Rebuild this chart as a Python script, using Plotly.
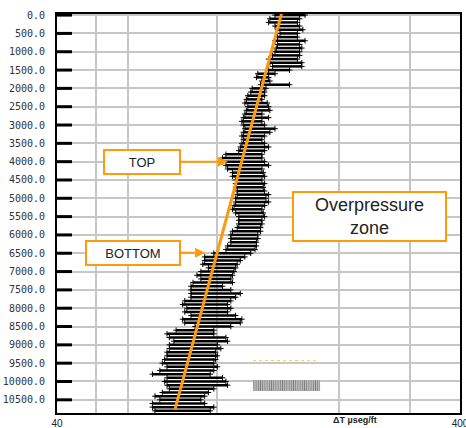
import math
import plotly.graph_objects as go

# Depth samples (ft) and the left/right extent of the sonic ΔT cloud (µs/ft)
depth = [0, 100, 200, 300, 400, 500, 600, 700, 800, 900,
         1000, 1100, 1200, 1300, 1400, 1500, 1600, 1700, 1800, 1900,
         2000, 2100, 2200, 2300, 2400, 2500, 2600, 2700, 2800, 2900,
         3000, 3100, 3200, 3300, 3400, 3500, 3600, 3700, 3800, 3900,
         4000, 4100, 4200, 4300, 4400, 4500, 4600, 4700, 4800, 4900,
         5000, 5100, 5200, 5300, 5400, 5500, 5600, 5700, 5800, 5900,
         6000, 6100, 6200, 6300, 6400, 6500, 6600, 6700, 6800, 6900,
         7000, 7100, 7200, 7300, 7400, 7500, 7600, 7700, 7800, 7900,
         8000, 8100, 8200, 8300, 8400, 8500, 8600, 8700, 8800, 8900,
         9000, 9100, 9200, 9300, 9400, 9500, 9600, 9700, 9800, 9900,
         10000, 10100, 10200, 10300, 10400, 10500, 10600, 10700, 10800]
dt_lo = [139, 135, 134, 139, 141, 143, 141, 139, 141, 140,
         139, 137, 134, 135, 137, 134, 126, 125, 129, 128,
         122, 121, 119, 118, 117, 119, 118, 117, 116, 115,
         116, 117, 116, 115, 116, 115, 114, 113, 105, 103,
         103, 105, 106, 109, 109, 111, 111, 111, 112, 112,
         111, 111, 110, 109, 111, 113, 113, 113, 112, 109,
         108, 108, 108, 106, 105, 98, 93, 93, 92, 95,
         91, 89, 91, 87, 86, 86, 86, 86, 83, 82,
         84, 83, 86, 82, 83, 88, 79, 75, 76, 78,
         76, 76, 75, 75, 74, 73, 75, 72, 69, 75,
         74, 75, 76, 73, 70, 72, 69, 69, 70]
dt_hi = [165, 160, 158, 160, 163, 158, 158, 165, 160, 162,
         160, 160, 158, 162, 162, 151, 139, 134, 135, 151,
         132, 131, 131, 129, 133, 134, 135, 129, 134, 129,
         131, 139, 135, 131, 129, 131, 134, 131, 129, 129,
         131, 134, 129, 130, 131, 129, 131, 130, 131, 134,
         132, 134, 131, 129, 130, 131, 129, 129, 128, 128,
         126, 126, 125, 125, 124, 121, 117, 114, 112, 111,
         110, 109, 108, 109, 103, 108, 114, 111, 108, 106,
         108, 106, 111, 115, 114, 108, 98, 98, 105, 106,
         100, 102, 99, 100, 99, 98, 100, 98, 96, 103,
         105, 106, 98, 95, 93, 91, 93, 98, 96]

# Trend (normal compaction) line end points
trend_dt = [145.5, 78.5]
trend_depth = [-190, 10760]

# Small artefacts in the lower right of the log
hatch_depth = [10110]
hatch_dt_start = [122.6]
hatch_dt_len = [57.2]
dotted_dt = [122.6, 178.0]
dotted_depth = [9430, 9430]

# Arrow targets of the TOP / BOTTOM call-outs (ΔT, depth)
top_point = (106.2, 4000)
bottom_point = (93.2, 6486)

# Axis ranges and ticks
x_range = [40, 400]
y_range = [10860, -30]
y_ticks = [0, 500, 1000, 1500, 2000, 2500, 3000, 3500, 4000, 4500, 5000,
           5500, 6000, 6500, 7000, 7500, 8000, 8500, 9000, 9500, 10000, 10500]
y_ticktext = [f"{v:.1f}" for v in y_ticks]
x_ticks = [40, 50, 60, 100, 200, 300, 400]
x_ticktext = ["40", "", "", "", "", "", "400"]
x_tickmarks = [50, 60, 100, 200, 300]
x_extra_grid = [70, 80, 90]

ORANGE = "#FF9A0A"
GRID = "#c6c6c6"

fig = go.Figure()

# cloud as horizontal streaks
xs, ys = [], []
for d, lo, hi in zip(depth, dt_lo, dt_hi):
    xs += [lo, hi, None]
    ys += [d, d, None]
fig.add_trace(go.Scatter(x=xs, y=ys, mode="lines+markers",
                         line=dict(color="black", width=2.5),
                         marker=dict(symbol="cross-thin", size=4,
                                     line=dict(color="black", width=1)),
                         hoverinfo="skip", showlegend=False))

fig.add_trace(go.Bar(y=hatch_depth, x=hatch_dt_len, base=hatch_dt_start,
                     orientation="h", width=300,
                     marker=dict(color="white", line=dict(width=0),
                                 pattern=dict(shape="|", fgcolor="#000",
                                              bgcolor="white", size=2.2,
                                              solidity=0.7)),
                     showlegend=False, hoverinfo="skip"))

fig.add_trace(go.Scatter(x=dotted_dt, y=dotted_depth, mode="lines",
                         line=dict(color="#e6d84a", width=1, dash="dot"),
                         showlegend=False, hoverinfo="skip"))

fig.add_trace(go.Scatter(x=trend_dt, y=trend_depth, mode="lines",
                         line=dict(color=ORANGE, width=3),
                         showlegend=False, hoverinfo="skip"))

# extra vertical grid lines (70, 80, 90)
for v in x_extra_grid:
    fig.add_shape(type="line", xref="x", yref="y domain",
                  x0=math.log10(v), x1=math.log10(v), y0=0, y1=1,
                  line=dict(color=GRID, width=1.5), layer="below")
# heavy tick marks on the depth axis and small ones on the ΔT axis
for v in y_ticks:
    fig.add_shape(type="line", xref="x domain", yref="y",
                  x0=0, x1=15 / 403, y0=v, y1=v,
                  line=dict(color="black", width=3), layer="above")
for v in x_tickmarks:
    fig.add_shape(type="line", xref="x", yref="y domain",
                  x0=math.log10(v), x1=math.log10(v), y0=0, y1=8 / 399,
                  line=dict(color="black", width=2), layer="above")

fig.update_layout(
    width=466, height=428,
    margin=dict(l=57, r=6, t=14, b=15),
    paper_bgcolor="white", plot_bgcolor="white",
    barmode="overlay",
    xaxis=dict(type="log", range=[math.log10(x_range[0]), math.log10(x_range[1])],
               tickmode="array", tickvals=x_ticks, ticktext=x_ticktext,
               ticks="", ticklabeloverflow="allow", automargin=False,
               showgrid=True, gridcolor=GRID, gridwidth=1.5,
               showline=True, linecolor="black", linewidth=2, mirror=True,
               zeroline=False, ticklabelstandoff=0,
               tickfont=dict(family="Liberation Sans, Arial", size=10, color="#222")),
    yaxis=dict(range=y_range, tickmode="array", tickvals=y_ticks,
               ticktext=y_ticktext, ticks="", automargin=False,
               showgrid=True, gridcolor=GRID, gridwidth=1.5,
               showline=True, linecolor="black", linewidth=2, mirror=True,
               zeroline=False, ticklabelstandoff=8,
               tickfont=dict(family="DejaVu Sans Mono", size=10, color="#333")),
)

box_font = dict(family="Liberation Sans, Arial", size=13, color="#222")
fig.add_annotation(x=math.log10(top_point[0]), y=top_point[1], xref="x", yref="y",
                   text="TOP", showarrow=True, ax=-86, ay=0,
                   arrowhead=2, arrowsize=1, arrowwidth=2, arrowcolor=ORANGE,
                   bgcolor="white", bordercolor=ORANGE, borderwidth=2,
                   borderpad=1, width=72, height=20, font=box_font)
fig.add_annotation(x=math.log10(bottom_point[0]), y=bottom_point[1], xref="x", yref="y",
                   text="BOTTOM", showarrow=True, ax=-72, ay=0,
                   arrowhead=2, arrowsize=1, arrowwidth=2, arrowcolor=ORANGE,
                   bgcolor="white", bordercolor=ORANGE, borderwidth=2,
                   borderpad=1, width=90, height=20, font=box_font)
fig.add_annotation(x=(369.5 - 57) / 403, y=(413 - 216.5) / 399,
                   xref="paper", yref="paper", xanchor="center", yanchor="middle",
                   text="Overpressure<br>zone", showarrow=False,
                   bgcolor="white", bordercolor=ORANGE, borderwidth=2,
                   borderpad=1, width=149, height=45,
                   font=dict(family="Liberation Sans, Arial", size=18, color="#222"))
fig.add_annotation(x=(355 - 57) / 403, y=(413 - 420) / 399,
                   xref="paper", yref="paper", xanchor="center", yanchor="middle",
                   text="<b>ΔT µseg/ft</b>", showarrow=False,
                   font=dict(family="Liberation Sans, Arial", size=9, color="#222"))

fig.write_html("out.html")
